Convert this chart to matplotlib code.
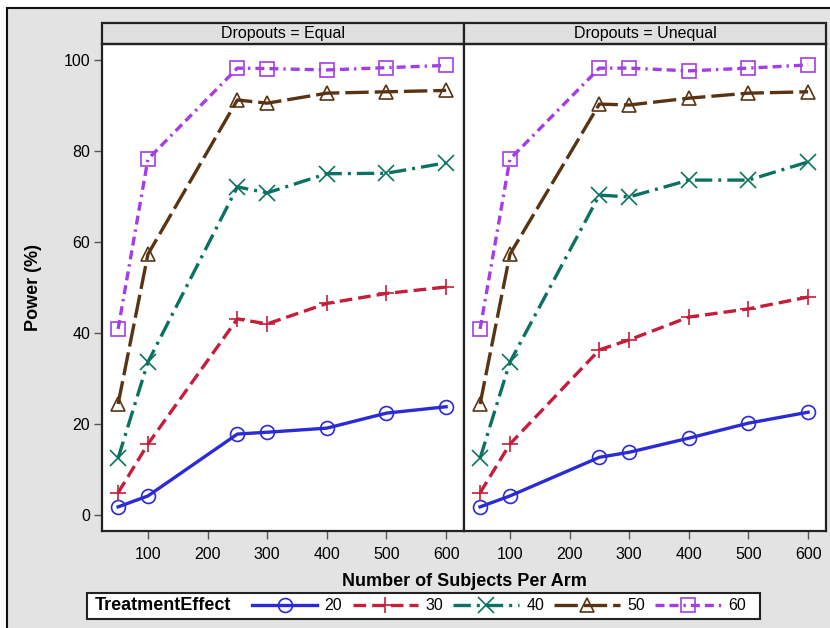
import numpy as np
import matplotlib.pyplot as plt
from matplotlib.patches import Rectangle
from matplotlib.lines import Line2D

plt.rcParams['font.family'] = ['Liberation Sans', 'DejaVu Sans']

n_arm = [50, 100, 250, 300, 400, 500, 600]
efectos = ['20', '30', '40', '50', '60']

# Dropouts = Equal
igual_20 = [1.8, 4.2, 17.8, 18.2, 19.1, 22.4, 23.8]
igual_30 = [4.9, 15.6, 43.1, 42.0, 46.5, 48.7, 50.1]
igual_40 = [12.5, 33.6, 72.1, 70.8, 75.0, 75.1, 77.4]
igual_50 = [24.4, 57.3, 91.2, 90.5, 92.7, 93.0, 93.3]
igual_60 = [40.9, 78.2, 98.2, 98.1, 97.8, 98.3, 98.8]

# Dropouts = Unequal
desigual_20 = [1.8, 4.2, 12.7, 13.8, 16.9, 20.2, 22.6]
desigual_30 = [4.9, 15.6, 36.3, 38.5, 43.5, 45.3, 47.9]
desigual_40 = [12.5, 33.6, 70.3, 69.9, 73.6, 73.6, 77.6]
desigual_50 = [24.4, 57.3, 90.3, 90.1, 91.6, 92.7, 93.0]
desigual_60 = [40.9, 78.2, 98.2, 98.2, 97.6, 98.2, 98.9]

paneles = ['Dropouts = Equal', 'Dropouts = Unequal']
datos = [[igual_20, igual_30, igual_40, igual_50, igual_60],
         [desigual_20, desigual_30, desigual_40, desigual_50, desigual_60]]

colores = ['#2b2bd6', '#c41e3a', '#0b7262', '#5a3312', '#a33de6']
marcadores = ['o', '+', 'x', '^', 's']
tamanos = [10, 12, 11, 10.5, 9.5]
estilos = ['-', (0, (3.8, 1.8)), (0, (5.2, 1.8, 0.9, 1.8)), (0, (7, 1.8)),
           (0, (2.7, 1.5, 2.7, 1.5, 0.7, 1.5))]
grosor = 2.4

W, H = 830, 628
fig = plt.figure(figsize=(8.3, 6.28), dpi=100)
fig.patch.set_facecolor('white')
fondo = Rectangle((7 / W, -0.01), 1.01 - 7 / W, 1.01 - 8 / H,
                  transform=fig.transFigure, facecolor='#e3e3e3',
                  edgecolor='#111111', lw=1.5, zorder=-10)
fig.add_artist(fondo)

ancho = 362 / W
alto = 487 / H
abajo = (H - 531) / H
for i in range(2):
    ax = fig.add_axes([(102 + 362 * i) / W, abajo, ancho, alto])
    ax.set_facecolor('white')
    for j in range(5):
        ax.plot(n_arm, datos[i][j], color=colores[j], linestyle=estilos[j], lw=grosor,
                marker=marcadores[j], markersize=tamanos[j], markerfacecolor='none',
                markeredgecolor=colores[j], markeredgewidth=1.2)
    ax.set_xlim(23, 630)
    ax.set_ylim(-3.5, 103.5)
    ax.set_xticks([100, 200, 300, 400, 500, 600])
    ax.set_yticks([0, 20, 40, 60, 80, 100])
    ax.tick_params(direction='out', length=5.5, width=1, color='#555555',
                   labelsize=11.5, pad=6)
    ax.tick_params(axis='y', pad=3)
    if i == 1:
        ax.tick_params(axis='y', left=False, labelleft=False)
    for s in ax.spines.values():
        s.set_linewidth(1.6)
        s.set_color('#222222')
    h = 21 / 487
    ax.add_patch(Rectangle((0, 1), 1, h, transform=ax.transAxes, clip_on=False,
                           facecolor='#e0e0e0', edgecolor='#222222', lw=1.6))
    ax.text(0.5, 1 + h / 2, paneles[i], transform=ax.transAxes, ha='center',
            va='center', fontsize=11.5)

fig.text(33 / W, 1 - 287.5 / H, 'Power (%)', rotation=90, ha='center', va='center',
         fontsize=13, fontweight='bold')
fig.text(464 / W, 1 - 582 / H, 'Number of Subjects Per Arm', ha='center', va='center',
         fontsize=13, fontweight='bold')

# leyenda
caja = Rectangle((87 / W, 1 - 619 / H), 673 / W, 26 / H,
                 transform=fig.transFigure, facecolor='white',
                 edgecolor='#222222', lw=1.5, zorder=1)
fig.add_artist(caja)
fig.text(95 / W, 1 - 606 / H, 'TreatmentEffect', ha='left', va='center',
         fontsize=13, fontweight='bold')
manejadores = [Line2D([], [], color=colores[j], linestyle=estilos[j], lw=grosor,
                      marker=marcadores[j], markersize=tamanos[j],
                      markerfacecolor='none', markeredgewidth=1.2)
               for j in range(5)]
fig.legend(manejadores, efectos, ncol=5, frameon=False, loc='center left',
           bbox_to_anchor=(252 / W, 1 - 606 / H), fontsize=11.5, handlelength=4.1,
           handletextpad=0.45, columnspacing=0.65, borderpad=0, borderaxespad=0)

fig.savefig('out.png', dpi=100)
